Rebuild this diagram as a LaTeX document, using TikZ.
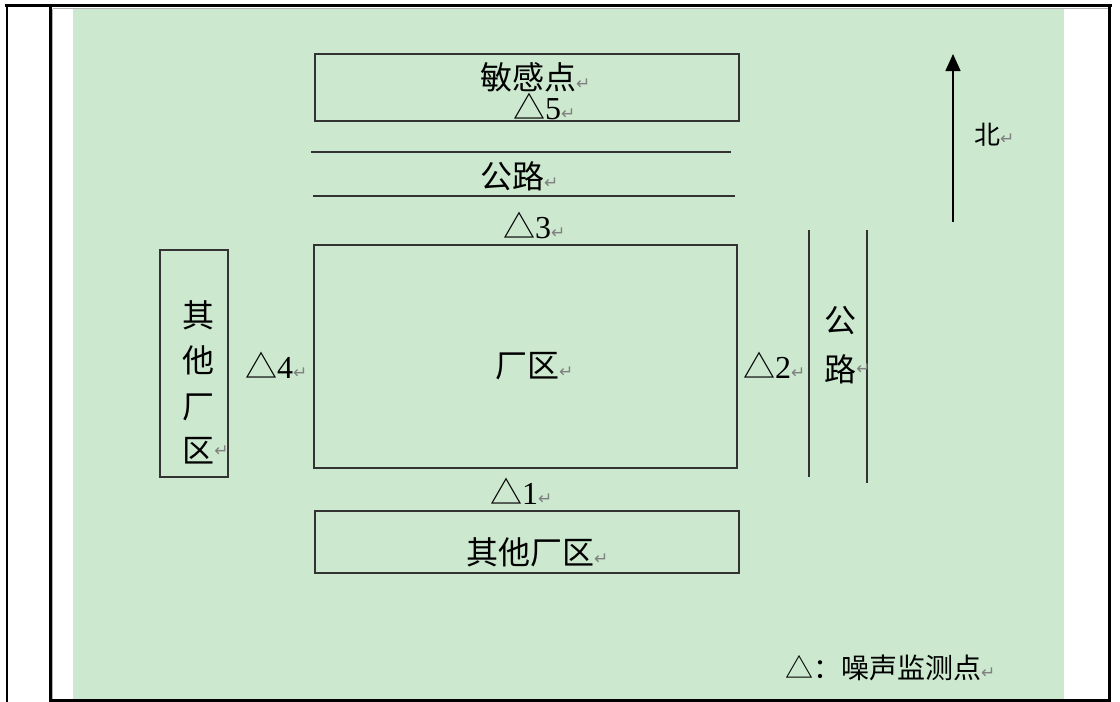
\documentclass[tikz,border=0pt]{standalone}
\usepackage{fontspec}
\setmainfont{Liberation Serif}
\newfontfamily\cjk{Noto Sans CJK SC}
\newfontfamily\dvs{DejaVu Sans}
\usetikzlibrary{arrows.meta}
\definecolor{bggreen}{RGB}{204,232,207}
\definecolor{linegray}{RGB}{51,51,51}
\newcommand\parmark{{\dvs\fontsize{17}{17}\selectfont\color{gray}↵}}
\newcommand\tri[1]{{\cjk △}{\rmfamily #1}}
\tikzset{
  txt/.style={font=\cjk\fontsize{32}{32}\selectfont, inner sep=0pt, anchor=west},
  vchar/.style={font=\cjk\fontsize{32}{32}\selectfont, inner sep=0pt, anchor=center},
  boxnode/.style={draw=linegray, line width=1.5pt, inner sep=0pt},
  road/.style={draw=linegray, line width=1.5pt},
  frame/.style={draw=black, line width=2.5pt}
}
\begin{document}
\begin{tikzpicture}[x=1pt,y=-1pt]
\useasboundingbox (0,0) rectangle (1120,702);
\fill[white] (0,0) rectangle (1120,702);
\fill[bggreen] (73,9) rectangle (1064,702);
% table frame
\draw[frame] (4.5,5.5) -- (1111.5,5.5);
\draw[frame] (7,5.5) -- (7,702);
\draw[frame] (50.5,5.5) -- (50.5,702);
\draw[frame] (1109.5,5.5) -- (1109.5,702);
\draw[frame] (50.5,700.5) -- (1111,700.5);
\draw[gray!60, line width=1pt] (52.5,8.5) -- (1108,8.5);
\draw[gray!60, line width=1pt] (52.5,8.5) -- (52.5,699);

% boxes
\node[boxnode, minimum width=424pt, minimum height=67pt] (sens) at (527,87.5) {};
\node[boxnode, minimum width=423pt, minimum height=223pt] (plant) at (525.5,356.5) {};
\node[boxnode, minimum width=68pt, minimum height=227pt] (leftfac) at (194,363.5) {};
\node[boxnode, minimum width=424pt, minimum height=62pt] (botfac) at (527,542) {};

% top road
\coordinate (rt1a) at (311,152);
\coordinate (rt1b) at (731,152);
\coordinate (rt2a) at (313,196);
\coordinate (rt2b) at (735,196);
\draw[road] (rt1a) -- (rt1b);
\draw[road] (rt2a) -- (rt2b);

% right road
\coordinate (rr1a) at (809,230);
\coordinate (rr1b) at (809,477);
\coordinate (rr2a) at (867,230);
\coordinate (rr2b) at (867,483);
\draw[road] (rr1a) -- (rr1b);
\draw[road] (rr2a) -- (rr2b);

% north arrow
\coordinate (nA) at (953,222);
\coordinate (nB) at (953,54);
\draw[black, line width=1.5pt, -{Triangle[length=17pt,width=15pt]}] (nA) -- (nB);
\node[txt, font=\cjk\fontsize{26}{26}\selectfont] (north) at (974,135) {北\parmark};

% texts
\node[txt] (tsens) at (480,77) {敏感点\parmark};
\node[txt] (t5) at (513,106) {\tri{5}\parmark};
\node[txt] (troad) at (480,176) {公路\parmark};
\node[txt] (t3) at (503,225) {\tri{3}\parmark};
\node[txt] (tplant) at (495,366) {厂区\parmark};
\node[txt] (t4) at (245,365) {\tri{4}\parmark};
\node[txt] (t2) at (743,365) {\tri{2}\parmark};
\node[txt] (t1) at (490,491) {\tri{1}\parmark};
\node[txt] (tbot) at (466,552) {其他厂区\parmark};

\node[vchar] (lq) at (198,315) {其};
\node[vchar] (lt) at (198,360) {他};
\node[vchar] (lc) at (198,407) {厂};
\node[vchar] (lz) at (198,451) {区};
\node[anchor=west, inner sep=0pt, font=\fontsize{8}{8}\selectfont] (lzm) at (lz.east) {\parmark};

\node[vchar] (rg) at (840,321) {公};
\node[vchar] (rl) at (840,369) {路};
\node[anchor=west, inner sep=0pt] (rlm) at (rl.east) {\parmark};

\node[txt, font=\cjk\fontsize{28}{28}\selectfont] (legend) at (785,668) {△：噪声监测点\parmark};
\end{tikzpicture}
\end{document}
